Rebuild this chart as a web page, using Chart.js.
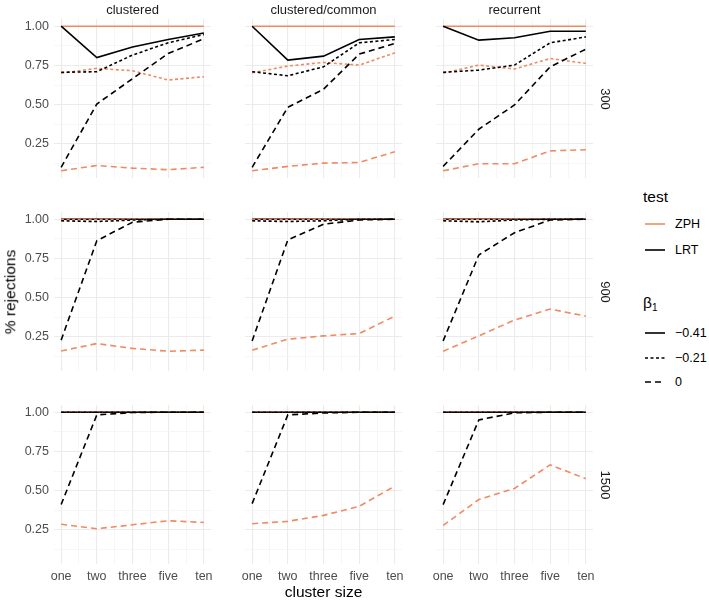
<!DOCTYPE html>
<html><head><meta charset="utf-8">
<script src="https://cdn.jsdelivr.net/npm/chart.js@4/dist/chart.umd.min.js"></script>
<style>
body{margin:0;width:709px;height:602px;background:#fff;position:relative;overflow:hidden;font-family:"Liberation Sans",Arial,sans-serif}
canvas{position:absolute}
.t{position:absolute;white-space:nowrap;transform:translate(-50%,-50%);line-height:1}
.l{position:absolute;white-space:nowrap;line-height:1;transform:translateY(-50%)}
</style></head><body>
<script>
// ---- data ----
const categories = ['one', 'two', 'three', 'five', 'ten'];
const designs = ['clustered', 'clustered/common', 'recurrent'];
const sampleSizes = ['300', '900', '1500'];
const tests = ['ZPH', 'LRT'];
const betas = ['\u22120.41', '\u22120.21', '0'];
const yTicks = [0.125, 0.25, 0.375, 0.5, 0.625, 0.75, 0.875, 1.0];

// rows: n=300 (clustered, clustered/common, recurrent), n=900 (...), n=1500 (...)
const ZPH_m041 = [
  [1, 1, 1, 1, 1], [1, 1, 1, 1, 1], [1, 1, 1, 1, 1],
  [1, 1, 1, 1, 1], [1, 1, 1, 1, 1], [1, 1, 1, 1, 1],
  [1, 1, 1, 1, 1], [1, 1, 1, 1, 1], [1, 1, 1, 1, 1]
];
const LRT_m041 = [
  [1, 0.80, 0.868, 0.915, 0.957], [1, 0.784, 0.809, 0.915, 0.932], [1, 0.911, 0.926, 0.968, 0.968],
  [1, 1, 1, 1, 1], [1, 1, 1, 1, 1], [1, 1, 1, 1, 1],
  [1, 1, 1, 1, 1], [1, 1, 1, 1, 1], [1, 1, 1, 1, 1]
];
const ZPH_m021 = [
  [0.700, 0.731, 0.716, 0.657, 0.678], [0.703, 0.746, 0.769, 0.752, 0.830], [0.700, 0.752, 0.727, 0.794, 0.763],
  [0.998, 0.997, 1, 1, 1], [0.998, 0.997, 1, 1, 1], [0.998, 0.997, 1, 1, 1],
  [1, 1, 1, 1, 1], [1, 1, 1, 1, 1], [1, 1, 1, 1, 1]
];
const LRT_m021 = [
  [0.706, 0.710, 0.816, 0.894, 0.947], [0.710, 0.684, 0.741, 0.894, 0.915], [0.706, 0.720, 0.752, 0.894, 0.932],
  [0.990, 0.985, 0.995, 1, 1], [0.990, 0.985, 0.990, 1, 1], [0.990, 0.983, 0.995, 1, 1],
  [1, 1, 1, 1, 1], [1, 1, 1, 1, 1], [1, 1, 1, 1, 1]
];
const ZPH_0 = [
  [0.078, 0.112, 0.095, 0.085, 0.100], [0.078, 0.106, 0.127, 0.131, 0.200], [0.078, 0.123, 0.123, 0.205, 0.212],
  [0.160, 0.207, 0.176, 0.158, 0.165], [0.165, 0.235, 0.256, 0.271, 0.382], [0.158, 0.256, 0.357, 0.427, 0.382],
  [0.286, 0.257, 0.282, 0.308, 0.297], [0.289, 0.304, 0.342, 0.400, 0.529], [0.278, 0.443, 0.514, 0.664, 0.576]
];
const LRT_0 = [
  [0.100, 0.504, 0.665, 0.826, 0.920], [0.100, 0.483, 0.598, 0.822, 0.890], [0.106, 0.343, 0.498, 0.741, 0.854],
  [0.229, 0.863, 0.981, 1, 1], [0.224, 0.868, 0.968, 0.995, 1], [0.224, 0.772, 0.914, 0.995, 1],
  [0.411, 0.983, 0.998, 1, 1], [0.417, 0.983, 0.995, 1, 1], [0.411, 0.951, 0.996, 1, 1]
];

// ---- styling ----
const ORANGE = '#EF8A62';
const BLACK = '#000000';
const DASH = { '\u22120.41': [], '\u22120.21': [3, 2.5], '0': [6, 4] };
const FONT = '"Liberation Sans", Arial, sans-serif';

const colL = [54, 245, 436], rowT = [19, 212, 405];
const PW = 157, PH = 159, PAD = 14;

// drawing order: first dataset is drawn on top
const seriesOrder = [
  { test: 'LRT', beta: '0', vals: LRT_0 },
  { test: 'ZPH', beta: '0', vals: ZPH_0 },
  { test: 'LRT', beta: '\u22120.21', vals: LRT_m021 },
  { test: 'ZPH', beta: '\u22120.21', vals: ZPH_m021 },
  { test: 'LRT', beta: '\u22120.41', vals: LRT_m041 },
  { test: 'ZPH', beta: '\u22120.41', vals: ZPH_m041 }
];

function addText(txt, x, y, size, color, rot, cls) {
  const d = document.createElement('div');
  d.className = cls || 't';
  d.style.left = x + 'px'; d.style.top = y + 'px';
  d.style.fontSize = size + 'px'; d.style.color = color;
  if (rot) d.style.transform = 'translate(-50%,-50%) rotate(' + rot + 'deg)';
  d.innerHTML = txt;
  document.body.appendChild(d);
  return d;
}

for (let r = 0; r < 3; r++) {
  for (let c = 0; c < 3; c++) {
    const yW = c === 0 ? 44 : 0;
    const xH = r === 2 ? 24 : 0;
    const cv = document.createElement('canvas');
    const w = PAD + yW + PW + PAD, h = PAD + PH + xH + PAD;
    cv.width = w; cv.height = h;
    cv.style.width = w + 'px'; cv.style.height = h + 'px';
    cv.style.left = (colL[c] - PAD - yW) + 'px';
    cv.style.top = (rowT[r] - PAD) + 'px';
    document.body.appendChild(cv);
    const p = r * 3 + c;
    const datasets = seriesOrder.map(s => ({
      label: s.test + ' ' + s.beta,
      data: categories.map((cat, i) => ({ x: i + 1, y: s.vals[p][i] })),
      borderColor: s.test === 'ZPH' ? ORANGE : BLACK,
      borderWidth: 1.6,
      borderDash: DASH[s.beta],
      pointRadius: 0,
      tension: 0,
      fill: false
    }));
    new Chart(cv, {
      type: 'line',
      data: { datasets },
      options: {
        responsive: false, animation: false,
        layout: { padding: PAD },
        plugins: { legend: { display: false }, tooltip: { enabled: false } },
        scales: {
          x: {
            type: 'linear', min: 0.8, max: 5.2,
            afterBuildTicks: s => { s.ticks = [1, 1.5, 2, 2.5, 3, 3.5, 4, 4.5, 5].map(v => ({ value: v })); },
            ticks: {
              display: r === 2, autoSkip: false, maxRotation: 0, padding: 5,
              font: { family: FONT, size: 12.5 }, color: '#4D4D4D',
              callback: v => Number.isInteger(v) ? categories[v - 1] : ''
            },
            grid: {
              drawTicks: false,
              color: ctx => Number.isInteger(ctx.tick.value) ? '#EBEBEB' : '#F2F2F2',
              lineWidth: ctx => Number.isInteger(ctx.tick.value) ? 1.1 : 0.7
            },
            border: { display: false },
            afterFit: s => { s.height = xH; s.paddingLeft = 0; s.paddingRight = 0; s.paddingTop = 0; s.paddingBottom = 0; }
          },
          y: {
            type: 'linear', min: 0.032, max: 1.046,
            afterBuildTicks: s => { s.ticks = yTicks.map(v => ({ value: v })); },
            ticks: {
              display: c === 0, autoSkip: false, padding: 5,
              font: { family: FONT, size: 12.5 }, color: '#4D4D4D',
              callback: (v, i) => (i % 2 === 1) ? v.toFixed(2) : ''
            },
            grid: {
              drawTicks: false,
              color: ctx => (ctx.index % 2 === 1) ? '#EBEBEB' : '#F2F2F2',
              lineWidth: ctx => (ctx.index % 2 === 1) ? 1.1 : 0.7
            },
            border: { display: false },
            afterFit: s => { s.width = yW; s.paddingLeft = 0; s.paddingRight = 0; s.paddingTop = 0; s.paddingBottom = 0; }
          }
        }
      }
    });
  }
}

// strips
designs.forEach((d, c) => addText(d, colL[c] + PW / 2, 9, 13, '#1A1A1A'));
sampleSizes.forEach((n, r) => addText(n, 605, rowT[r] + PH / 2, 13, '#1A1A1A', 90));

// axis titles
addText('cluster size', 323.5, 592, 15.5, '#000');
addText('% rejections', 9.5, 291.5, 15.5, '#000', -90);

// legend
addText('test', 643, 197, 15.5, '#000', 0, 'l');
const legendKeys = [
  { label: tests[0], y: 223.5, color: ORANGE, dash: [] },
  { label: tests[1], y: 249.5, color: BLACK, dash: [] }
];
addText('&beta;<sub style="font-size:10px;vertical-align:-3px">1</sub>', 643, 304, 15.5, '#000', 0, 'l');
betas.forEach((b, i) => legendKeys.push({ label: b, y: [333, 357.5, 382][i], color: BLACK, dash: DASH[b] }));
legendKeys.forEach(k => {
  const svg = document.createElementNS('http://www.w3.org/2000/svg', 'svg');
  svg.setAttribute('width', 24); svg.setAttribute('height', 6);
  svg.style.position = 'absolute'; svg.style.left = '643px'; svg.style.top = (k.y - 3) + 'px';
  const ln = document.createElementNS('http://www.w3.org/2000/svg', 'line');
  ln.setAttribute('x1', 2); ln.setAttribute('x2', 22); ln.setAttribute('y1', 3); ln.setAttribute('y2', 3);
  ln.setAttribute('stroke', k.color); ln.setAttribute('stroke-width', 1.6);
  if (k.dash.length) ln.setAttribute('stroke-dasharray', k.dash.join(' '));
  svg.appendChild(ln);
  document.body.appendChild(svg);
  addText(k.label, 675, k.y, 12.5, '#000', 0, 'l');
});
</script>
</body></html>
